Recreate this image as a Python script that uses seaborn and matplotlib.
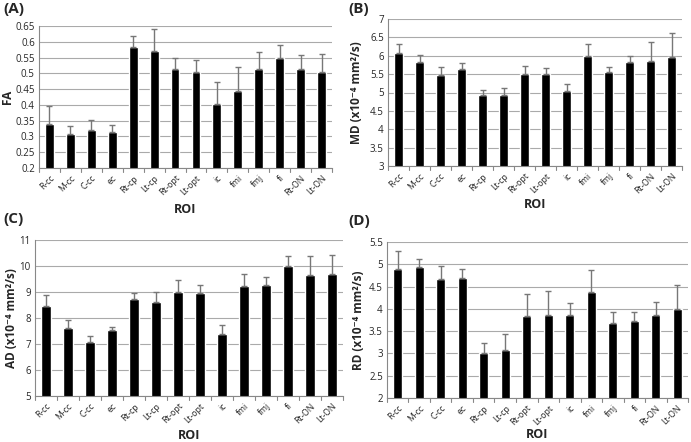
import numpy as np
import pandas as pd
import seaborn as sns
import matplotlib.pyplot as plt

sns.set_theme(style="white")
plt.rcParams['font.family'] = ['Open Sans', 'DejaVu Sans']

rois = ["R-cc", "M-cc", "C-cc", "ec", "Rt-cp", "Lt-cp", "Rt-opt", "Lt-opt",
        "ic", "fmi", "fmj", "fi", "Rt-ON", "Lt-ON"]

fa_mean = [0.340, 0.308, 0.322, 0.315, 0.585, 0.572, 0.513, 0.504, 0.403, 0.445, 0.513, 0.548, 0.513, 0.504]
fa_err = [0.058, 0.025, 0.031, 0.020, 0.032, 0.068, 0.035, 0.038, 0.070, 0.074, 0.054, 0.042, 0.046, 0.058]

md_mean = [6.08, 5.83, 5.47, 5.65, 4.92, 4.92, 5.49, 5.49, 5.04, 6.00, 5.56, 5.83, 5.85, 5.97]
md_err = [0.25, 0.18, 0.23, 0.14, 0.16, 0.19, 0.24, 0.18, 0.18, 0.33, 0.13, 0.17, 0.53, 0.66]

ad_mean = [8.45, 7.62, 7.07, 7.55, 8.72, 8.60, 9.00, 8.95, 7.38, 9.22, 9.27, 10.00, 9.65, 9.68]
ad_err = [0.43, 0.30, 0.23, 0.12, 0.26, 0.40, 0.47, 0.33, 0.34, 0.48, 0.31, 0.38, 0.75, 0.75]

rd_mean = [4.90, 4.93, 4.68, 4.70, 3.02, 3.07, 3.84, 3.86, 3.87, 4.38, 3.69, 3.73, 3.86, 4.00]
rd_err = [0.40, 0.19, 0.28, 0.20, 0.21, 0.36, 0.50, 0.55, 0.27, 0.50, 0.25, 0.21, 0.30, 0.54]

# tag, y label, means, errors, y range, y ticks, axes box (px), ylabel x, xlabel y, tag pos (px)
panels = [
    ("(A)", "FA", fa_mean, fa_err, (0.2, 0.65), np.arange(0.2, 0.651, 0.05),
     [39, 26, 293, 142], -0.085, -0.245, (3, 2)),
    ("(B)", "MD (x10⁻⁴ mm²/s)", md_mean, md_err, (3, 7), np.arange(3, 7.01, 0.5),
     [388, 19, 294, 147], -0.085, -0.218, (348, 2)),
    ("(C)", "AD (x10⁻⁴ mm²/s)", ad_mean, ad_err, (5, 11), np.arange(5, 11.01, 1),
     [35, 240, 308, 156], -0.055, -0.21, (3, 212)),
    ("(D)", "RD (x10⁻⁴ mm²/s)", rd_mean, rd_err, (2, 5.5), np.arange(2, 5.51, 0.5),
     [387, 242, 301, 156], -0.072, -0.19, (348, 214)),
]

W, H = 691, 442
fig = plt.figure(figsize=(W / 100, H / 100), dpi=100)

for tag, ylab, mean, err, ylim, yticks, (l, t, w, h), ylx, xly, (tx, ty) in panels:
    ax = fig.add_axes([l / W, 1 - (t + h) / H, w / W, h / H])
    df = pd.DataFrame({"ROI": rois, "val": mean})
    sns.barplot(data=df, x="ROI", y="val", color="black", width=0.42,
                saturation=1, errorbar=None, ax=ax, zorder=2)
    ax.errorbar(np.arange(len(rois)), mean, yerr=[np.zeros(len(err)), err],
                fmt="none", ecolor="#777777", elinewidth=1, capsize=2.5,
                capthick=1, zorder=3)
    ax.set_ylim(*ylim)
    ax.set_xlim(-0.5, len(rois) - 0.5)
    ax.set_yticks(yticks)
    ax.set_yticklabels([f"{v:g}" for v in yticks], fontsize=7)
    ax.yaxis.grid(True, color="#aaaaaa", linewidth=0.8, zorder=0)
    ax.set_axisbelow(True)
    ax.set_xticks(np.arange(len(rois)))
    ax.set_xticklabels(rois, rotation=45, ha="right", rotation_mode="anchor", fontsize=6.2)
    ax.tick_params(axis="x", length=0, pad=4)
    ax.tick_params(axis="y", length=0, pad=3)
    for b in np.arange(-0.5, len(rois), 1):
        ax.plot([b, b], [0, -0.025], transform=ax.get_xaxis_transform(),
                color="#888888", lw=0.8, clip_on=False)
    for s in ["top", "right"]:
        ax.spines[s].set_visible(False)
    for s in ["left", "bottom"]:
        ax.spines[s].set_color("#888888")
        ax.spines[s].set_linewidth(0.8)
    ax.set_xlabel("ROI", fontsize=9, fontweight="bold")
    ax.set_ylabel(ylab, fontsize=8.5, fontweight="bold")
    ax.xaxis.set_label_coords(0.5, xly)
    ax.yaxis.set_label_coords(ylx, 0.5)
    fig.text(tx / W, 1 - ty / H, tag, fontsize=11, fontweight="bold",
             ha="left", va="top")

fig.savefig("out.png", dpi=100)
